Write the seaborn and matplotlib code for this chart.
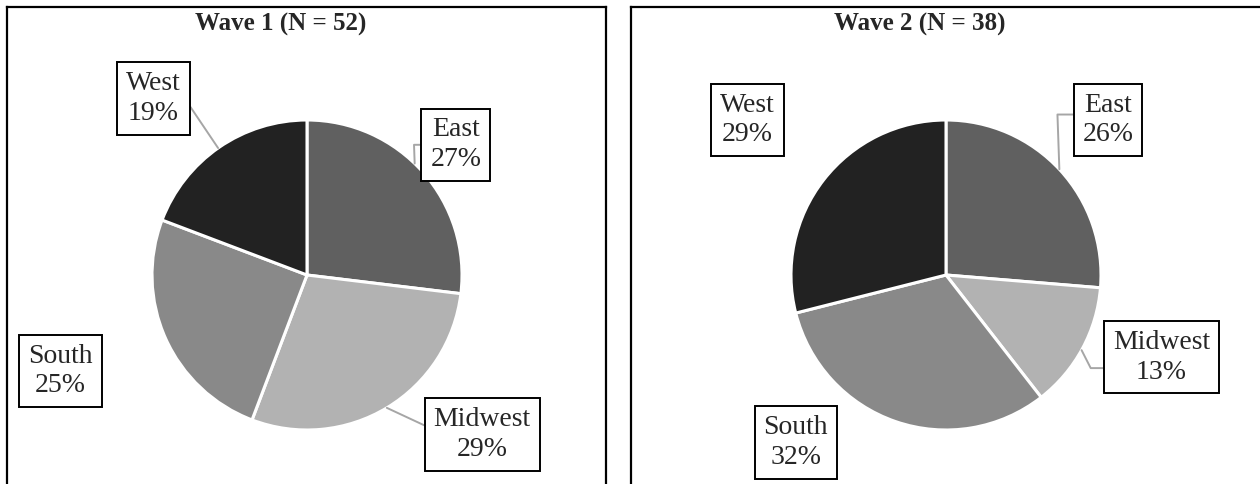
import numpy as np
import seaborn as sns
import matplotlib.pyplot as plt

# data: respondents by region in each wave
regions = ["East", "Midwest", "South", "West"]
wave1_counts = [14, 15, 13, 10]
wave2_counts = [10, 5, 12, 11]
wave_names = ["Wave 1", "Wave 2"]

sns.set_theme(style="white")
plt.rcParams["font.family"] = ["Liberation Serif", "DejaVu Serif"]

grays = ["#606060", "#b2b2b2", "#898989", "#222222"]
leader_color = "#a6a6a6"

# label placement (pie radius units)
label_pos = [
    [(0.96, 0.84), (1.13, -1.03), (-1.59, -0.62), (-0.99, 1.14)],
    [(1.045, 1.0), (1.39, -0.53), (-0.97, -1.08), (-1.28, 1.0)],
]
# leader lines: (rim angle, attach point on box, bend angle or None), None = no leader
leaders = [
    [(46, (0, 0.5), 92), (-59, (0, 0.5), -25), None, (125, (1, 0.6), None)],
    [(43, (0, 0.6), 92), (-29, (0, 0.3), -63), None, None],
]

fig = plt.figure(figsize=(12.6, 4.84), dpi=100)
W, H = 1260, 484
scale = 155.0  # pixels per pie radius

# panel boxes in pixels: (left, right, top, bottom) and pie centre
panels = [((7, 606, 7, 500), (307, 275)), ((631, 1290, 7, 500), (946, 275))]

for k, counts in enumerate([wave1_counts, wave2_counts]):
    (l, r, t, b), (cx, cy) = panels[k]
    ax = fig.add_axes([l / W, (H - b) / H, (r - l) / W, (b - t) / H])
    total = sum(counts)
    ax.pie(counts, colors=grays, startangle=90, counterclock=False,
           wedgeprops=dict(edgecolor="white", linewidth=2.2))
    ax.set_frame_on(True)
    ax.set_aspect("auto")
    ax.set_xlim((l - cx) / scale, (r - cx) / scale)
    ax.set_ylim((cy - b) / scale, (cy - t) / scale)
    ax.set_xticks([])
    ax.set_yticks([])
    for sp in ax.spines.values():
        sp.set_visible(True)
        sp.set_color("black")
        sp.set_linewidth(1.6)

    ax.text(-26 / scale, (cy - 24) / scale, f"{wave_names[k]} (N = {total})",
            ha="center", va="center", fontsize=18, fontweight="bold")

    for i, name in enumerate(regions):
        pct = 100 * counts[i] / total
        txt = f"{name}\n{pct:.0f}%"
        x, y = label_pos[k][i]
        box = dict(boxstyle="square,pad=0.32", fc="white", ec="black", lw=1.4)
        lead = leaders[k][i]
        if lead is None:
            ax.text(x, y, txt, ha="center", va="center", fontsize=20,
                    linespacing=1.25, bbox=box, zorder=5)
        else:
            ang, rel, bend = lead
            a = np.deg2rad(ang)
            if bend is None:
                cs = "arc3,rad=0"
            else:
                cs = f"angle,angleA=180,angleB={bend},rad=0"
            ax.annotate(txt, xy=(np.cos(a), np.sin(a)), xytext=(x, y),
                        ha="center", va="center", fontsize=20, linespacing=1.25,
                        bbox=box, zorder=5,
                        arrowprops=dict(arrowstyle="-", color=leader_color, lw=1.4,
                                        shrinkA=0, shrinkB=0, relpos=rel,
                                        connectionstyle=cs))

fig.savefig("out.png", dpi=100)
